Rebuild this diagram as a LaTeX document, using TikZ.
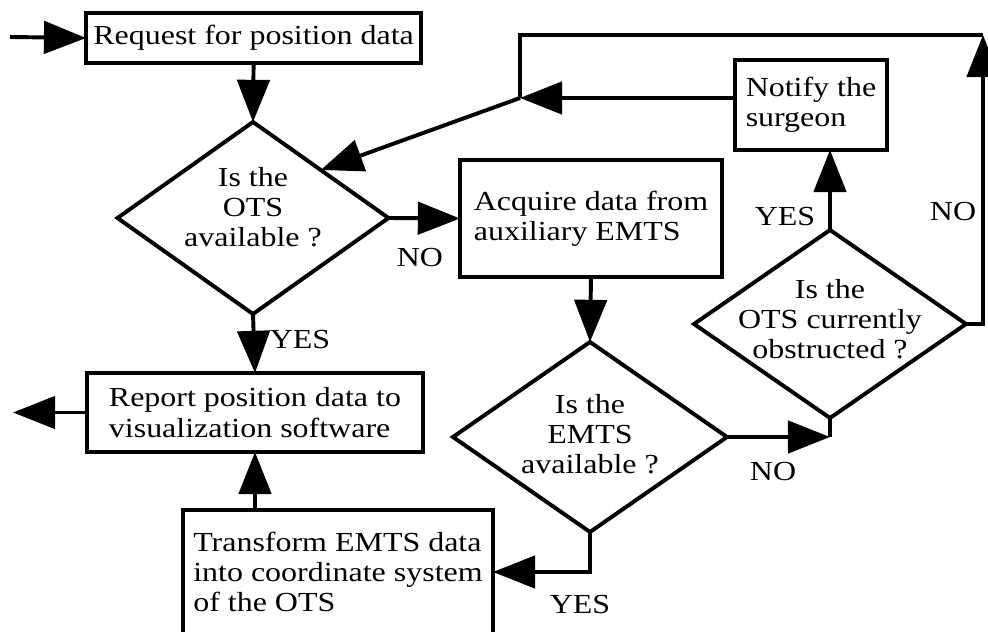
\documentclass[tikz,border=0pt]{standalone}
\usepackage{fontspec}
\setmainfont{Liberation Serif}[FakeStretch=1.16]
\usetikzlibrary{shapes.geometric,arrows.meta}

\begin{document}
\begin{tikzpicture}[
    font=\fontsize{19.6}{21.6}\selectfont,
    line width=2.8pt,
    box/.style={draw, rectangle, align=left, inner sep=0pt, outer sep=0pt},
    decision/.style={draw, diamond, inner sep=0pt, outer sep=0pt},
    arr/.style={-{Triangle[length=30pt, width=23pt]}},
    answer/.style={inner sep=0pt},
]
    % Page frame (the last box runs off the bottom edge)
    \clip (0,0) rectangle (24.7,-15.8);

    % Process boxes
    \node[box, minimum width=8.375cm, minimum height=1.25cm] (req) at (6.34,-0.95) {Request for position data};
    \node[box, minimum width=6.55cm, minimum height=2.925cm] (acq) at (14.775,-5.4625) {Acquire data from\\auxiliary EMTS};
    \node[box, minimum width=3.8cm, minimum height=2.25cm] (note) at (20.275,-2.625) {Notify the\\surgeon};
    \node[box, minimum width=8.4cm, minimum height=1.975cm] (rep) at (6.375,-10.3125) {Report position data to\\visualization software};
    \node[box, minimum width=7.75cm, minimum height=3.1cm] (trans) at (8.45,-14.3) {Transform EMTS data\\into coordinate system\\of the OTS};

    % Decisions
    \node[decision, minimum width=6.775cm, minimum height=4.8cm,
          label={[align=center, yshift=0.27cm]center:Is the\\OTS\\available ?}] (ots) at (6.325,-5.45) {};
    \node[decision, minimum width=6.85cm, minimum height=4.75cm,
          label={[align=center, yshift=0.07cm]center:Is the\\EMTS\\available ?}] (emts) at (14.75,-10.925) {};
    \node[decision, minimum width=6.8cm, minimum height=4.7cm,
          label={[align=center, yshift=0.12cm]center:Is the\\OTS currently\\obstructed ?}] (obs) at (20.75,-8.1) {};

    % Free ends and corners of the loop
    \coordinate (in) at (0.25,-0.925);
    \coordinate (out) at (0.325,-10.3125);
    \coordinate (tr) at (24.575,-0.875);
    \coordinate (tl) at (13,-0.875);
    \coordinate (mid) at (13,-2.45);
    \coordinate (jn) at (obs.south |- emts.east);

    % Main line
    \draw[arr] (in) -- (req.west);
    \draw[arr] (req.south) -- (ots.north);
    \draw[arr] (ots.south) -- (rep.north);
    \draw[arr] (rep.west) -- (out);
    \draw[arr] (ots.east) -- (acq.west);
    \draw[arr] (acq.south) -- (emts.north);
    \draw[arr] (emts.south) |- (trans.east);
    \draw[arr] (rep.south |- trans.north) -- (rep.south);

    % EMTS not available: check for obstruction
    \draw[arr] (emts.east) -- (jn);
    \draw (jn) -- (obs.south);
    \draw[arr] (obs.north) -- (obs.north |- note.south);

    % Back to the OTS check
    \draw[arr] (obs.east) -| (tr);
    \draw (tr) -- (tl) -- (mid);
    \draw[arr] (mid -| note.west) -- (mid);
    \draw[arr] (mid) -- (ots.north east);

    % Answers
    \node[answer] (otsno) at (10.5,-6.45) {NO};
    \node[answer] (otsyes) at (7.5,-8.5) {YES};
    \node[answer] (obsyes) at (19.625,-5.425) {YES};
    \node[answer] (obsno) at (23.825,-5.3) {NO};
    \node[answer] (emtsno) at (19.325,-11.8) {NO};
    \node[answer] (emtsyes) at (14.5,-15.125) {YES};
\end{tikzpicture}
\end{document}
